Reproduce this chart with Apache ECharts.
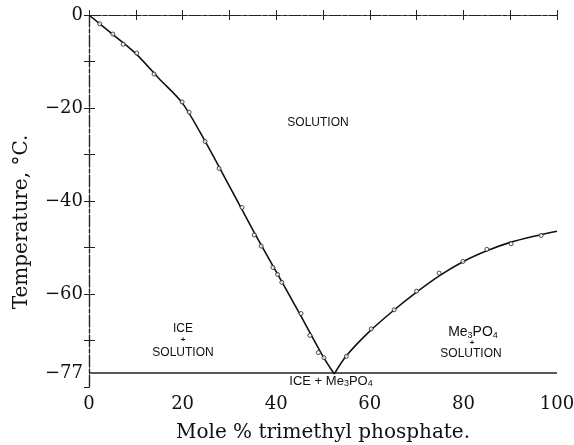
<!DOCTYPE html>
<html><head><meta charset="utf-8">
<script src="https://cdn.jsdelivr.net/npm/echarts@6/dist/echarts.min.js"></script>
<style>html,body{margin:0;padding:0;background:#fff}#c{width:574px;height:445px}</style>
</head><body><div id="c"></div>
<script>
// Measured freezing points (open circles)
var ptsX = [2.3, 5.1, 7.3, 10.2, 13.9, 19.9, 21.4, 24.8, 27.8, 32.7, 35.3, 36.8, 39.3, 40.3, 41.2, 45.3, 47.2, 49.0, 50.2, 55.0, 60.3, 65.2, 70.0, 74.8, 79.9, 85.0, 90.2, 96.6];
var ptsY = [-1.9, -4.1, -6.3, -8.2, -12.7, -18.7, -20.9, -27.2, -33.0, -41.4, -47.3, -49.7, -54.3, -55.8, -57.5, -64.2, -68.9, -72.6, -73.7, -73.4, -67.5, -63.4, -59.4, -55.5, -53.0, -50.4, -49.2, -47.4];
// Drawn (faired) curve: ice branch and Me3PO4 branch, meeting at the eutectic
var iceCurveX = [0, 5, 10, 15, 20, 25, 30, 35, 40, 45, 50, 52.4];
var iceCurveY = [0, -4.1, -8.3, -13.7, -19.0, -27.5, -36.8, -46.2, -55.2, -64.2, -73.4, -77.2];
var saltCurveX = [52.4, 55, 60, 65, 70, 75, 80, 85, 90, 95, 100];
var saltCurveY = [-77.2, -73.3, -68.0, -63.6, -59.6, -56.0, -53.0, -50.7, -48.9, -47.6, -46.5];
var eutecticT = -77;
var xTickLabels = [0, 20, 40, 60, 80, 100];
var yTickLabels = [0, -20, -40, -60, -77];
var yMinorTicks = [0, -10, -20, -30, -40, -50, -60, -70];

function zip(a, b) { return a.map(function (v, i) { return [v, b[i]]; }); }

var chart = echarts.init(document.getElementById('c'), null, {renderer: 'canvas'});
var serif = '"DejaVu Serif", "Liberation Serif", serif';
var sans = '"Liberation Sans", "DejaVu Sans", sans-serif';
var frame = {show: true, lineStyle: {color: '#222', width: 1.2, type: [12, 2, 4, 2]}};
var option = {
  animation: false,
  backgroundColor: '#fff',
  grid: {left: 89, right: 17, top: 15, bottom: 58, containLabel: false, outerBoundsMode: 'none'},
  xAxis: [{
    type: 'value', min: 0, max: 100, interval: 20,
    axisLine: frame,
    axisTick: {show: true, inside: true, length: 5, lineStyle: {color: '#222'}},
    minorTick: {show: true, splitNumber: 2, length: 5, lineStyle: {color: '#222'}},
    splitLine: {show: false},
    axisLabel: {color: '#111', fontFamily: serif, fontSize: 18, margin: 8,
      customValues: xTickLabels},
    name: 'Mole % trimethyl phosphate.', nameLocation: 'middle', nameGap: 36,
    nameTextStyle: {color: '#111', fontFamily: serif, fontSize: 20}
  }, {
    type: 'value', position: 'top', min: 0, max: 100, interval: 10,
    axisLine: frame,
    axisTick: {show: true, inside: true, length: 5, lineStyle: {color: '#222'}},
    axisLabel: {show: false}, splitLine: {show: false}
  }],
  yAxis: [{
    type: 'value', min: -80, max: 0, interval: 10,
    axisLine: frame,
    axisTick: {show: true, inside: true, length: 6, lineStyle: {color: '#222'}, customValues: yMinorTicks},
    splitLine: {show: false},
    axisLabel: {color: '#111', fontFamily: serif, fontSize: 18, margin: 6,
      customValues: yTickLabels,
      formatter: function (v) { return v === 0 ? '0' : '\u2212' + Math.abs(v); }}
  }, {
    type: 'value', position: 'right', min: -80, max: 0, interval: 10,
    axisLine: frame,
    axisTick: {show: true, inside: true, length: 5, lineStyle: {color: '#222'}},
    axisLabel: {show: false}, splitLine: {show: false}
  }],
  series: [{
    type: 'line', data: zip(iceCurveX, iceCurveY), smooth: 0.3,
    showSymbol: false, lineStyle: {color: '#111', width: 1.6}, z: 3,
    markLine: {
      silent: true, symbol: 'none', label: {show: false},
      lineStyle: {color: '#222', width: 1.6, type: 'solid'},
      data: [{yAxis: eutecticT}]
    }
  }, {
    type: 'line', data: zip(saltCurveX, saltCurveY), smooth: 0.3,
    showSymbol: false, lineStyle: {color: '#111', width: 1.6}, z: 3
  }, {
    type: 'scatter', data: zip(ptsX, ptsY), symbol: 'circle', symbolSize: 4,
    itemStyle: {color: '#fff', borderColor: '#222', borderWidth: 1}, z: 4
  }],
  graphic: [
    {type: 'text', x: 22, y: 222, rotation: Math.PI / 2, style: {text: 'Temperature, \u00B0C.', font: '20px ' + serif, fill: '#111', align: 'center', verticalAlign: 'middle'}},
    {type: 'text', x: 318, y: 123, style: {text: 'SOLUTION', font: '12px ' + sans, fill: '#111', align: 'center', verticalAlign: 'middle'}},
    {type: 'text', x: 183, y: 329, style: {text: 'ICE', font: '12px ' + sans, fill: '#111', align: 'center', verticalAlign: 'middle'}},
    {type: 'text', x: 183, y: 340, style: {text: '+', font: 'bold 8px ' + sans, fill: '#111', align: 'center', verticalAlign: 'middle'}},
    {type: 'text', x: 183, y: 353, style: {text: 'SOLUTION', font: '12px ' + sans, fill: '#111', align: 'center', verticalAlign: 'middle'}},
    {type: 'text', x: 473, y: 332, style: {
      text: 'Me{s|3}PO{s|4}', font: '14px ' + sans, fill: '#111', align: 'center', verticalAlign: 'middle',
      rich: {s: {fontSize: 9, fontFamily: sans, padding: [7, 0, 0, 0], fill: '#111'}}}},
    {type: 'text', x: 472, y: 343, style: {text: '+', font: 'bold 8px ' + sans, fill: '#111', align: 'center', verticalAlign: 'middle'}},
    {type: 'text', x: 471, y: 354, style: {text: 'SOLUTION', font: '12px ' + sans, fill: '#111', align: 'center', verticalAlign: 'middle'}},
    {type: 'text', x: 331, y: 381, style: {
      text: 'ICE + Me{s|3}PO{s|4}', font: '13px ' + sans, fill: '#111', align: 'center', verticalAlign: 'middle',
      rich: {s: {fontSize: 9, fontFamily: sans, padding: [6, 0, 0, 0], fill: '#111'}}}}
  ]
};
chart.setOption(option);
</script>
</body></html>
